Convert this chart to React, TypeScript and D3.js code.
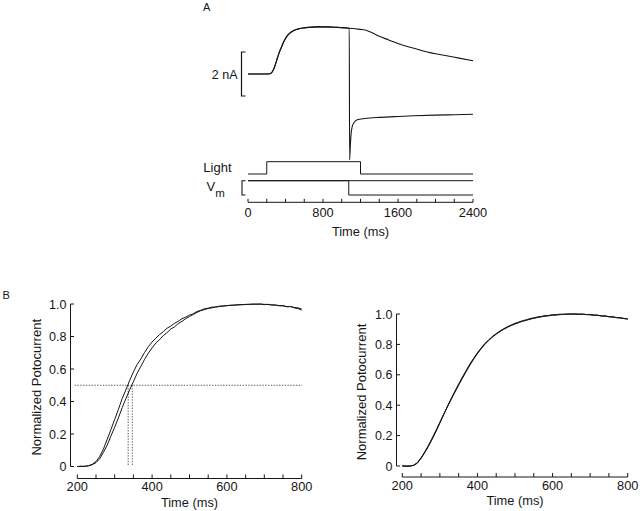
import React from 'react';
import * as d3 from 'd3';

const FONT = '"Liberation Sans", Arial, sans-serif';
const INK = '#161616';

// ---------- Panel A data ----------
const A_TICKS = d3.range(0, 2401, 200);
const A_TICK_LABELS = [0, 800, 1600, 2400];

const CUR1_T = [0, 100, 200, 230, 250, 270, 290, 306, 330, 359, 385, 412, 445, 483, 530, 590, 650, 733, 850, 950, 1080, 1195, 1250, 1337, 1408, 1500, 1593, 1700, 1771, 1860, 1941, 2030, 2119, 2250, 2400];
const CUR1_V = [0, 0, 0, 0.01, 0.05, 0.18, 0.4, 0.62, 0.94, 1.24, 1.5, 1.7, 1.86, 1.97, 2.04, 2.09, 2.12, 2.14, 2.14, 2.12, 2.08, 2.03, 2.0, 1.85, 1.7, 1.55, 1.4, 1.25, 1.17, 1.06, 0.97, 0.9, 0.83, 0.72, 0.6];

const CUR2_T = [0, 100, 200, 230, 250, 270, 290, 306, 330, 359, 385, 412, 445, 483, 530, 590, 650, 733, 850, 950, 1080, 1084, 1092, 1100, 1111, 1130, 1159, 1250, 1408, 1600, 1771, 2000, 2200, 2400];
const CUR2_V = [0, 0, 0, 0.01, 0.05, 0.18, 0.4, 0.62, 0.94, 1.24, 1.5, 1.7, 1.86, 1.97, 2.04, 2.09, 2.12, 2.14, 2.14, 2.12, 2.08, -3.9, -3.2, -2.7, -2.4, -2.22, -2.09, -2.02, -1.97, -1.93, -1.9, -1.87, -1.85, -1.83];

const LIGHT_T = [0, 200, 200, 1200, 1200, 2400];
const LIGHT_V = [0, 0, 1, 1, 0, 0];
const VM1_T = [0, 2400];
const VM1_V = [0, 0];
const VM2_T = [0, 1075, 1075, 2400];
const VM2_V = [0, 0, -1, -1];

// ---------- Panel B data ----------
const B_T = d3.range(200, 801, 10);
const B_X_TICKS = d3.range(200, 801, 50);
const B_X_LABELS = [200, 400, 600, 800];
const B_Y_TICKS = [0, 0.2, 0.4, 0.6, 0.8, 1.0];
const B_Y_LABELS = ['0', '0.2', '0.4', '0.6', '0.8', '1.0'];

const LEFT_C1 = [0.0, 0.002, 0.0, 0.005, 0.014, 0.03, 0.062, 0.108, 0.168, 0.228, 0.29, 0.352, 0.418, 0.472, 0.53, 0.582, 0.628, 0.662, 0.702, 0.738, 0.766, 0.79, 0.812, 0.83, 0.851, 0.864, 0.881, 0.894, 0.91, 0.919, 0.931, 0.94, 0.954, 0.961, 0.971, 0.974, 0.981, 0.981, 0.987, 0.987, 0.991, 0.991, 0.994, 0.994, 0.997, 0.996, 0.999, 0.998, 1.0, 0.999, 0.998, 0.997, 0.995, 0.993, 0.99, 0.989, 0.984, 0.984, 0.979, 0.976, 0.97];
const LEFT_C2 = [0.0, 0.0, 0.002, 0.004, 0.011, 0.024, 0.048, 0.088, 0.132, 0.188, 0.242, 0.3, 0.362, 0.418, 0.472, 0.522, 0.574, 0.616, 0.66, 0.698, 0.73, 0.76, 0.781, 0.806, 0.824, 0.846, 0.859, 0.88, 0.893, 0.91, 0.923, 0.936, 0.948, 0.959, 0.965, 0.973, 0.976, 0.982, 0.984, 0.988, 0.989, 0.993, 0.992, 0.996, 0.995, 0.998, 0.997, 1.0, 0.998, 1.0, 0.996, 0.998, 0.993, 0.994, 0.989, 0.99, 0.983, 0.985, 0.976, 0.972, 0.962];
const HALF_TIMES = [336, 347];
const HALF_LEVEL = 0.5;

const RIGHT_R1 = [0.0, -0.003, 0.0, 0.004, 0.022, 0.055, 0.092, 0.135, 0.182, 0.232, 0.285, 0.338, 0.39, 0.44, 0.488, 0.535, 0.58, 0.625, 0.667, 0.706, 0.742, 0.774, 0.803, 0.828, 0.85, 0.869, 0.886, 0.901, 0.914, 0.926, 0.936, 0.945, 0.953, 0.96, 0.967, 0.973, 0.978, 0.983, 0.987, 0.99, 0.993, 0.995, 0.997, 0.998, 0.999, 1.0, 1.0, 0.999, 0.998, 0.997, 0.995, 0.993, 0.991, 0.988, 0.986, 0.983, 0.98, 0.977, 0.974, 0.971, 0.968];
const RIGHT_R2 = [0.0, 0.0, -0.002, 0.006, 0.02, 0.05, 0.088, 0.13, 0.178, 0.229, 0.282, 0.336, 0.392, 0.444, 0.492, 0.54, 0.586, 0.629, 0.672, 0.709, 0.746, 0.777, 0.807, 0.83, 0.853, 0.871, 0.889, 0.903, 0.917, 0.928, 0.939, 0.947, 0.956, 0.962, 0.97, 0.975, 0.981, 0.984, 0.989, 0.991, 0.995, 0.996, 0.999, 0.998, 1.0, 0.999, 1.0, 0.998, 0.999, 0.996, 0.996, 0.992, 0.992, 0.987, 0.987, 0.982, 0.981, 0.976, 0.975, 0.97, 0.966];
const RIGHT_R3 = [0.002, 0.0, 0.001, 0.003, 0.018, 0.052, 0.094, 0.138, 0.186, 0.236, 0.288, 0.34, 0.388, 0.437, 0.485, 0.532, 0.577, 0.621, 0.663, 0.703, 0.739, 0.771, 0.8, 0.826, 0.848, 0.867, 0.884, 0.899, 0.912, 0.924, 0.934, 0.943, 0.952, 0.958, 0.966, 0.971, 0.977, 0.981, 0.986, 0.988, 0.992, 0.993, 0.996, 0.997, 0.999, 0.999, 1.0, 0.998, 0.999, 0.996, 0.996, 0.992, 0.992, 0.987, 0.987, 0.982, 0.981, 0.976, 0.975, 0.97, 0.969];

type Pt = [number, number];
const zip = (t: number[], v: number[]): Pt[] => t.map((x, i) => [x, v[i]]);

function YAxisB({ x, ys, labelX }: { x: number; ys: d3.ScaleLinear<number, number>; labelX: number }) {
  return (
    <g>
      <line x1={x} x2={x} y1={ys(0)} y2={ys(1)} stroke={INK} strokeWidth={1} />
      {B_Y_TICKS.map((v, i) => (
        <g key={i}>
          <line x1={x} x2={x + 3.5} y1={ys(v)} y2={ys(v)} stroke={INK} strokeWidth={1} />
          <text x={x - 4} y={ys(v)} dy="0.36em" textAnchor="end" fontSize={12.5} fontFamily={FONT} fill={INK}>
            {B_Y_LABELS[i]}
          </text>
        </g>
      ))}
      <text
        transform={`translate(${labelX},${(ys(0) + ys(1)) / 2 + 2}) rotate(-90)`}
        textAnchor="middle"
        fontSize={13}
        fontFamily={FONT}
        fill={INK}
      >
        Normalized Potocurrent
      </text>
    </g>
  );
}

function XAxisB({ y, xs }: { y: number; xs: d3.ScaleLinear<number, number> }) {
  return (
    <g>
      <line x1={xs(200)} x2={xs(800)} y1={y} y2={y} stroke={INK} strokeWidth={1} />
      {B_X_TICKS.map((t) => (
        <line key={t} x1={xs(t)} x2={xs(t)} y1={y} y2={y - 4} stroke={INK} strokeWidth={1} />
      ))}
      {B_X_LABELS.map((t) => (
        <text key={t} x={xs(t)} y={y + 12.8} textAnchor="middle" fontSize={12.8} fontFamily={FONT} fill={INK}>
          {t}
        </text>
      ))}
      <text x={(xs(200) + xs(800)) / 2} y={y + 28} textAnchor="middle" fontSize={12.8} fontFamily={FONT} fill={INK}>
        Time (ms)
      </text>
    </g>
  );
}

export default function App() {
  // Panel A scales
  const xA = d3.scaleLinear().domain([0, 2400]).range([248, 473]);
  const yA = d3.scaleLinear().domain([0, 2]).range([74, 30]);
  const yL = d3.scaleLinear().domain([0, 1]).range([174, 161.7]);
  const yV = d3.scaleLinear().domain([-1, 0]).range([195, 180.7]);

  const curLine = d3
    .line<Pt>()
    .x((d) => xA(d[0]))
    .y((d) => yA(d[1]))
    .curve(d3.curveMonotoneX);
  const lightLine = d3
    .line<Pt>()
    .x((d) => xA(d[0]))
    .y((d) => yL(d[1]));
  const vmLine = d3
    .line<Pt>()
    .x((d) => xA(d[0]))
    .y((d) => yV(d[1]));

  // Panel B scales
  const xBL = d3.scaleLinear().domain([200, 800]).range([77.3, 301.7]);
  const yBL = d3.scaleLinear().domain([0, 1]).range([466.5, 304]);
  const xBR = d3.scaleLinear().domain([200, 800]).range([402.3, 627.7]);
  const yBR = d3.scaleLinear().domain([0, 1]).range([466, 314]);

  const lineL = d3
    .line<Pt>()
    .x((d) => xBL(d[0]))
    .y((d) => yBL(d[1]));
  const lineR = d3
    .line<Pt>()
    .x((d) => xBR(d[0]))
    .y((d) => yBR(d[1]));

  const axAy = 202.3;

  return (
    <svg
      width={640}
      height={511}
      viewBox="0 0 640 511"
      style={{ position: 'absolute', left: 0, top: 0, background: '#fff' }}
    >
      <rect x={0} y={0} width={640} height={511} fill="#fff" />

      {/* ---------------- Panel A ---------------- */}
      <text x={203} y={10.5} fontSize={11} fontFamily={FONT} fill={INK}>
        A
      </text>

      {/* 2 nA scale bracket */}
      <path
        d={`M${245.5},${yA(1)} H${241.5} V${yA(-1)} H${245.5}`}
        fill="none"
        stroke={INK}
        strokeWidth={1.2}
      />
      <text x={237.5} y={yA(0)} dy="0.36em" textAnchor="end" fontSize={12.5} fontFamily={FONT} fill={INK}>
        2 nA
      </text>

      {/* current traces */}
      <path d={curLine(zip(CUR1_T, CUR1_V)) || ''} fill="none" stroke={INK} strokeWidth={1.1} />
      <path d={curLine(zip(CUR2_T, CUR2_V)) || ''} fill="none" stroke={INK} strokeWidth={1.1} />

      {/* light trace */}
      <text x={203.3} y={172} fontSize={13} fontFamily={FONT} fill={INK}>
        Light
      </text>
      <path d={lightLine(zip(LIGHT_T, LIGHT_V)) || ''} fill="none" stroke={INK} strokeWidth={1} />

      {/* Vm traces */}
      <text x={206.5} y={190.8} fontFamily={FONT} fill={INK}>
        <tspan fontSize={13}>V</tspan>
        <tspan fontSize={11.5} dx={0} dy={6}>m</tspan>
      </text>
      <path
        d={`M${245.5},${yV(0)} H${242} V${yV(-1)} H${245.5}`}
        fill="none"
        stroke={INK}
        strokeWidth={1.1}
      />
      <path d={vmLine(zip(VM1_T, VM1_V)) || ''} fill="none" stroke={INK} strokeWidth={1} />
      <path d={vmLine(zip(VM2_T, VM2_V)) || ''} fill="none" stroke={INK} strokeWidth={1} />

      {/* Panel A time axis */}
      <line x1={xA(0)} x2={xA(2400)} y1={axAy} y2={axAy} stroke={INK} strokeWidth={1} />
      {A_TICKS.map((t) => (
        <line key={t} x1={xA(t)} x2={xA(t)} y1={axAy} y2={axAy - 3.5} stroke={INK} strokeWidth={1} />
      ))}
      {A_TICK_LABELS.map((t) => (
        <text key={t} x={xA(t)} y={217} textAnchor="middle" fontSize={12.8} fontFamily={FONT} fill={INK}>
          {t}
        </text>
      ))}
      <text x={(xA(0) + xA(2400)) / 2} y={236} textAnchor="middle" fontSize={12.8} fontFamily={FONT} fill={INK}>
        Time (ms)
      </text>

      {/* ---------------- Panel B ---------------- */}
      <text x={2.5} y={299} fontSize={11} fontFamily={FONT} fill={INK}>
        B
      </text>

      {/* Left */}
      <YAxisB x={70.5} ys={yBL} labelX={41} />
      <XAxisB y={478.5} xs={xBL} />
      <line
        x1={xBL(193)}
        x2={xBL(801)}
        y1={yBL(HALF_LEVEL)}
        y2={yBL(HALF_LEVEL)}
        stroke="#333"
        strokeWidth={0.8}
        strokeDasharray="1.4,1.4"
      />
      {HALF_TIMES.map((t) => (
        <line
          key={t}
          x1={xBL(t)}
          x2={xBL(t)}
          y1={yBL(HALF_LEVEL)}
          y2={yBL(0)}
          stroke="#333"
          strokeWidth={0.8}
          strokeDasharray="1.4,1.4"
        />
      ))}
      <path d={lineL(zip(B_T, LEFT_C1)) || ''} fill="none" stroke={INK} strokeWidth={1} />
      <path d={lineL(zip(B_T, LEFT_C2)) || ''} fill="none" stroke={INK} strokeWidth={1} />

      {/* Right */}
      <YAxisB x={396.5} ys={yBR} labelX={366} />
      <XAxisB y={477} xs={xBR} />
      <path d={lineR(zip(B_T, RIGHT_R1)) || ''} fill="none" stroke={INK} strokeWidth={0.9} />
      <path d={lineR(zip(B_T, RIGHT_R2)) || ''} fill="none" stroke={INK} strokeWidth={0.9} />
      <path d={lineR(zip(B_T, RIGHT_R3)) || ''} fill="none" stroke={INK} strokeWidth={0.9} />
    </svg>
  );
}
